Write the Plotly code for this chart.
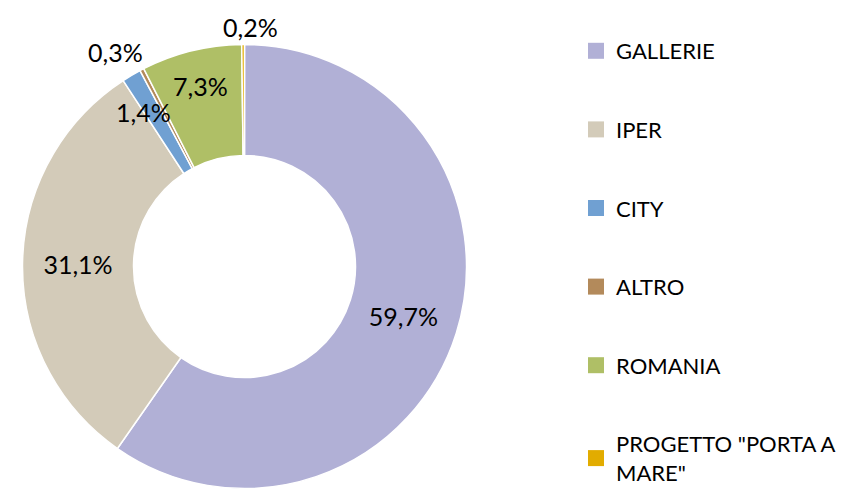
import math
import plotly.graph_objects as go

categories = ["GALLERIE", "IPER", "CITY", "ALTRO", "ROMANIA", 'PROGETTO "PORTA A MARE"']
legend_labels = ["GALLERIE", "IPER", "CITY", "ALTRO", "ROMANIA", 'PROGETTO "PORTA A<br>MARE"']
values = [59.7, 31.1, 1.4, 0.3, 7.3, 0.2]
colors = ["#B1B0D6", "#D3CBB9", "#70A0D2", "#B38A5B", "#AFBF66", "#E2AC00"]

# label placement style for the narrow slices: (radius px, x shift, y shift)
small_label_style = {
    "CITY": (185, -7, -5),
    "ALTRO": (250, -13, -7),
    "ROMANIA": (186, 1, 0),
    'PROGETTO "PORTA A MARE"': (240, 8, 0),
}

FONT = "Lato, Open Sans, sans-serif"
W, H = 847, 494
cx, cy, r = 244.5, 266.5, 222


def fmt(v):
    return f"{v:.1f}".replace(".", ",") + "%"


templates = ["" if c in small_label_style else "%{value:.1f}%" for c in categories]

fig = go.Figure()
fig.add_trace(go.Pie(
    labels=categories,
    values=values,
    sort=False,
    direction="clockwise",
    rotation=0,
    hole=0.5,
    marker=dict(colors=colors, line=dict(color="white", width=1.5)),
    texttemplate=templates,
    textposition="inside",
    insidetextorientation="horizontal",
    textfont=dict(family=FONT, size=25, color="black"),
    showlegend=False,
    hoverinfo="label+percent",
    domain=dict(x=[(cx - r) / W, (cx + r) / W], y=[(H - cy - r) / H, (H - cy + r) / H]),
))

# annotations for narrow slices, placed at the slice mid-angle
total = sum(values)
cum = 0.0
for c, v in zip(categories, values):
    mid = (cum + v / 2) / total * 2 * math.pi
    cum += v
    if c not in small_label_style:
        continue
    rad, xs, ys = small_label_style[c]
    px = cx + rad * math.sin(mid)
    py = cy - rad * math.cos(mid)
    fig.add_annotation(
        x=px / W, y=1 - py / H, xref="paper", yref="paper",
        text=fmt(v), showarrow=False, xanchor="center", yanchor="middle",
        xshift=xs, yshift=ys,
        font=dict(family=FONT, size=25, color="black"),
    )

for i, (lab, col) in enumerate(zip(legend_labels, colors)):
    fig.add_trace(go.Scatter(
        x=[None], y=[None], mode="markers", name=lab,
        marker=dict(symbol="square", size=18, color=col),
        legendgroup=f"g{i}", showlegend=True,
    ))

fig.update_layout(
    width=W, height=H,
    margin=dict(l=0, r=0, t=0, b=0),
    paper_bgcolor="white", plot_bgcolor="white",
    separators=",.",
    uniformtext=dict(minsize=25, mode="show"),
    font=dict(family=FONT, size=22, color="black"),
    xaxis=dict(visible=False), yaxis=dict(visible=False),
    legend=dict(x=576 / W, y=1 - 45 / H, xanchor="left", yanchor="top",
                font=dict(family=FONT, size=22, color="black"),
                tracegroupgap=47, itemwidth=30,
                bgcolor="rgba(0,0,0,0)"),
)

fig.write_html("out.html", config={"displayModeBar": False},
               post_script="document.body.style.margin='0px';")
